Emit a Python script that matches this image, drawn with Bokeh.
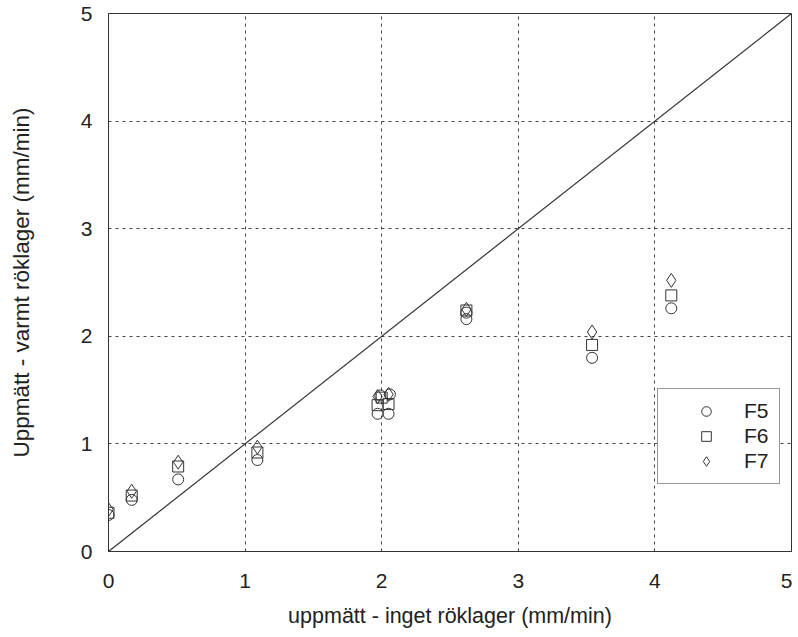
from bokeh.plotting import figure
from bokeh.models import Range1d, Legend, LegendItem, FixedTicker
from bokeh.embed import file_html
from bokeh.resources import INLINE

# Data
f5_x = [0.0, 0.17, 0.51, 1.09, 1.97, 1.99, 2.05, 2.06, 2.62, 2.62, 3.54, 4.12]
f5_y = [0.34, 0.48, 0.67, 0.85, 1.28, 1.45, 1.28, 1.46, 2.16, 2.22, 1.80, 2.26]
f6_x = [0.0, 0.17, 0.51, 1.09, 1.97, 2.05, 2.00, 2.62, 3.54, 4.12]
f6_y = [0.36, 0.52, 0.79, 0.92, 1.36, 1.37, 1.43, 2.24, 1.92, 2.38]
f7_x = [0.0, 0.17, 0.51, 1.09, 1.97, 2.05, 2.62, 3.54, 4.12]
f7_y = [0.39, 0.56, 0.83, 0.97, 1.44, 1.46, 2.25, 2.04, 2.52]
diag_x = [0, 5]
diag_y = [0, 5]
ticks = [0, 1, 2, 3, 4, 5]
x_title = "uppmätt - inget röklager (mm/min)"
y_title = "Uppmätt - varmt röklager (mm/min)"

FONT = "Liberation Sans"

p = figure(width=792, height=630,
           min_border_left=108, min_border_top=13, min_border_bottom=78, min_border_right=1,
           x_range=Range1d(0, 5), y_range=Range1d(0, 5),
           output_backend="svg", toolbar_location=None,
           background_fill_color="white", border_fill_color="white")

p.outline_line_color = "#333333"
p.outline_line_width = 1

for ax in (p.xaxis[0], p.yaxis[0]):
    ax.ticker = FixedTicker(ticks=ticks)
    ax.major_tick_out = 0
    ax.major_tick_in = 0
    ax.minor_tick_out = 0
    ax.minor_tick_in = 0
    ax.axis_line_color = "#333333"
    ax.major_label_text_font = FONT
    ax.major_label_text_font_size = "21px"
    ax.major_label_text_color = "#222222"
    ax.axis_label_text_font = FONT
    ax.axis_label_text_font_style = "normal"
    ax.axis_label_text_color = "#222222"

p.xaxis.axis_label = x_title
p.xaxis.axis_label_text_font_size = "21.5px"
p.xaxis.major_label_standoff = 22
p.xaxis.axis_label_standoff = 13

p.yaxis.axis_label = y_title
p.yaxis.axis_label_text_font_size = "22.5px"
p.yaxis.major_label_standoff = 16
p.yaxis.axis_label_standoff = 44

for g in (p.xgrid[0], p.ygrid[0]):
    g.ticker = FixedTicker(ticks=ticks)
    g.grid_line_color = "#444444"
    g.grid_line_dash = "3 4"
    g.grid_line_width = 1

p.line(diag_x, diag_y, line_color="#333333", line_width=1.2)

r5 = p.scatter(f5_x, f5_y, marker="circle", size=11, fill_color=None,
               line_color="#333333", line_width=1)
r6 = p.scatter(f6_x, f6_y, marker="square", size=11, fill_color=None,
               line_color="#333333", line_width=1)
r7 = p.scatter(f7_x, f7_y, marker="diamond", size=14, fill_color=None,
               line_color="#333333", line_width=1)

legend = Legend(items=[LegendItem(label="F5", renderers=[r5]),
                       LegendItem(label="F6", renderers=[r6]),
                       LegendItem(label="F7", renderers=[r7])],
                location=(549, 67))
legend.padding = 10
legend.margin = 0
legend.spacing = 1
legend.glyph_width = 76
legend.glyph_height = 24
legend.label_height = 24
legend.label_standoff = 0
legend.label_text_font = FONT
legend.label_text_font_size = "21px"
legend.label_text_color = "#222222"
legend.border_line_color = "#333333"
legend.border_line_width = 1
legend.background_fill_alpha = 1
p.add_layout(legend, "center")

open("out.html", "w").write(file_html(p, INLINE))
